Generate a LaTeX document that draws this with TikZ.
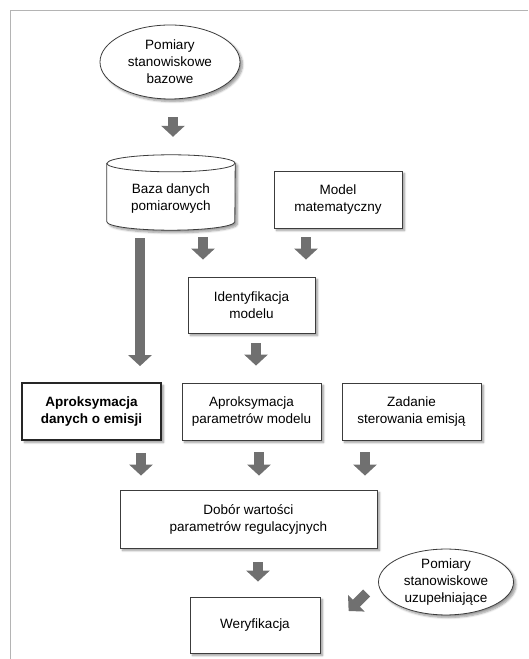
\documentclass[tikz,border=0pt]{standalone}
\usepackage{fontspec}
\setmainfont{Liberation Sans}
\usetikzlibrary{arrows.meta, shapes.geometric, shadows.blur}
\definecolor{arrgray}{HTML}{707070}
\definecolor{edgegray}{HTML}{3C3C3C}
\definecolor{framegray}{HTML}{B4B4B4}
\tikzset{
  box/.style={draw=edgegray, line width=0.8pt, fill=white, align=center, inner sep=2pt,
    blur shadow={shadow xshift=2.5pt, shadow yshift=-2.5pt, shadow blur steps=6, shadow opacity=40}},
  boldbox/.style={box, line width=1.8pt, draw=black!85, font=\fontsize{13.5}{17}\selectfont\bfseries},
  oval/.style={box, ellipse, inner sep=0pt},
  blk/.style={draw=arrgray, line width=10pt, -{Triangle[width=23pt,length=11pt]}, arrgray},
}

\begin{document}
\begin{tikzpicture}[x=1pt, y=1pt, font=\fontsize{13.5}{17}\selectfont]
\useasboundingbox (0,0) rectangle (528,659);
\draw[framegray, line width=1pt](10,0)--(10,648)--(528,648);

% top: measurements and database
\node[oval, minimum width=140pt, minimum height=74pt] (pbaz) at (170,597) {Pomiary\\stanowiskowe\\bazowe};
\node[minimum width=128pt, minimum height=75pt] (bdp) at (171,466.5) {};
\draw[box] ([yshift=-8.5pt]bdp.north west) -- ([yshift=8.5pt]bdp.south west)
  arc[start angle=180, end angle=360, x radius=64, y radius=8.5]
  -- ([yshift=-8.5pt]bdp.north east)
  arc[start angle=0, end angle=180, x radius=64, y radius=8.5] -- cycle;
\draw[edgegray, line width=0.8pt] ([yshift=-8.5pt]bdp.north west)
  arc[start angle=180, end angle=360, x radius=64, y radius=8.5];
\node[align=center] at ([yshift=-6pt]bdp.center) {Baza danych\\pomiarowych};
\node[box, minimum width=128pt, minimum height=57pt] (mm) at (338,459.5) {Model\\matematyczny};

% middle
\node[box, minimum width=127pt, minimum height=56pt] (idm) at (251.5,354) {Identyfikacja\\modelu};
\node[boldbox, minimum width=139pt, minimum height=57pt] (ade) at (91.5,247.5) {Aproksymacja\\danych o emisji};
\node[box, minimum width=139pt, minimum height=57pt] (apm) at (251.5,247.5) {Aproksymacja\\parametrów modelu};
\node[box, minimum width=139pt, minimum height=57pt] (zse) at (411.5,247.5) {Zadanie\\sterowania emisją};

% bottom
\node[box, minimum width=257pt, minimum height=58pt] (dwp) at (248.5,140) {Dobór wartości\\parametrów regulacyjnych};
\node[box, minimum width=130pt, minimum height=56pt] (wer) at (255,34) {Weryfikacja};
\node[oval, minimum width=135pt, minimum height=64pt] (psu) at (446,77) {Pomiary\\stanowiskowe\\uzupełniające};

% block arrows
\draw[blk, shorten <=18pt, shorten >=18pt]([xshift=3pt]pbaz.south)--([xshift=2pt]bdp.north);
\draw[blk, shorten <=8pt, shorten >=16pt]([xshift=-31pt]bdp.south)--([xshift=48.5pt]ade.north);
\draw[blk, shorten <=7pt, shorten >=17pt]([xshift=32pt]bdp.south)--([xshift=-48.5pt]idm.north);
\draw[blk, shorten <=9pt, shorten >=17pt]([xshift=-32pt]mm.south)--([xshift=54.5pt]idm.north);
\draw[blk, shorten <=10pt, shorten >=17pt]([xshift=4.5pt]idm.south)--([xshift=4.5pt]apm.north);
\draw[blk, shorten <=12pt, shorten >=14pt]([xshift=49.5pt]ade.south)--([xshift=-107.5pt]dwp.north);
\draw[blk, shorten <=12pt, shorten >=14pt]([xshift=7.5pt]apm.south)--([xshift=10.5pt]dwp.north);
\draw[blk, shorten <=12pt, shorten >=14pt]([xshift=-46.5pt]zse.south)--([xshift=116.5pt]dwp.north);
\draw[blk, shorten <=14pt, shorten >=15pt]([xshift=9.5pt]dwp.south)--([xshift=3pt]wer.north);
\draw[blk]([shift={(-11.5,-11)}]psu.west)--++(-18,-18);
\end{tikzpicture}
\end{document}
